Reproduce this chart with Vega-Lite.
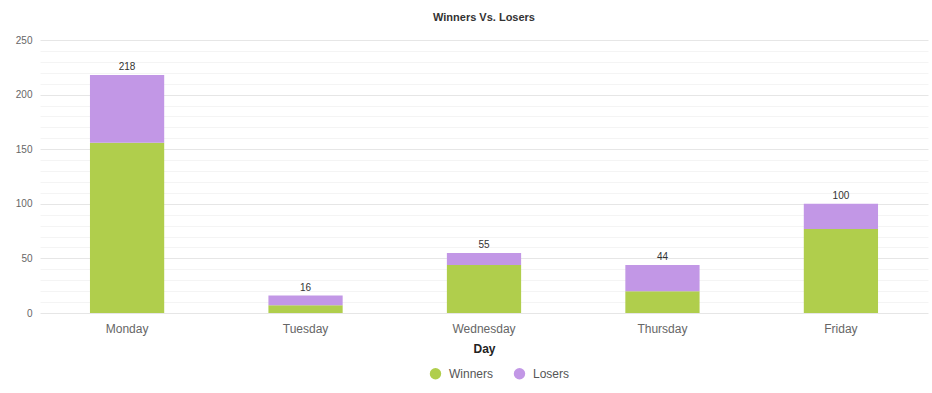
{
  "$schema": "https://vega.github.io/schema/vega-lite/v6.json",
  "autosize": "none",
  "width": 888,
  "height": 273,
  "padding": {"left": 40, "top": 40, "right": 4, "bottom": 80},
  "background": "white",
  "title": {"text": "Winners Vs. Losers", "fontSize": 11, "font": "Liberation Sans", "fontWeight": "bold", "color": "#333", "anchor": "middle", "offset": 12},
  "data": {
    "values": [
      {"day": "Monday", "series": "Winners", "value": 156},
      {"day": "Monday", "series": "Losers", "value": 62},
      {"day": "Tuesday", "series": "Winners", "value": 7},
      {"day": "Tuesday", "series": "Losers", "value": 9},
      {"day": "Wednesday", "series": "Winners", "value": 44},
      {"day": "Wednesday", "series": "Losers", "value": 11},
      {"day": "Thursday", "series": "Winners", "value": 20},
      {"day": "Thursday", "series": "Losers", "value": 24},
      {"day": "Friday", "series": "Winners", "value": 77},
      {"day": "Friday", "series": "Losers", "value": 23}
    ]
  },
  "config": {"view": {"stroke": null}, "font": "Liberation Sans"},
  "encoding": {
    "x": {"field": "day", "type": "nominal", "sort": ["Monday", "Tuesday", "Wednesday", "Thursday", "Friday"],
      "scale": {"paddingInner": 0.584, "paddingOuter": 0.28},
      "axis": {"title": "Day", "labelAngle": 0, "labelFontSize": 12, "labelColor": "#666", "labelPadding": 10, "ticks": false, "domain": false, "titleFontSize": 12, "titleFontWeight": "bold", "titleColor": "#222", "titlePadding": 9}}
  },
  "layer": [
    {
      "mark": {"type": "bar"},
      "encoding": {
        "y": {"field": "value", "type": "quantitative", "stack": "zero",
          "scale": {"domain": [0, 250], "nice": false},
          "axis": {"title": null, "values": [0,10,20,30,40,50,60,70,80,90,100,110,120,130,140,150,160,170,180,190,200,210,220,230,240,250],
            "labelExpr": "datum.value % 50 === 0 ? datum.label : ''",
            "gridColor": {"condition": {"test": "datum.value % 50 === 0", "value": "#e6e6e6"}, "value": "#f4f4f4"},
            "domain": false, "ticks": false, "labelFontSize": 10, "labelColor": "#666", "labelPadding": 8}},
        "color": {"field": "series", "type": "nominal",
          "scale": {"domain": ["Winners", "Losers"], "range": ["#b0ce4c", "#c297e6"]},
          "legend": {"title": null, "orient": "none", "legendX": 389, "legendY": 327, "direction": "horizontal", "symbolType": "circle", "symbolSize": 130, "labelFontSize": 12, "labelColor": "#555", "columnPadding": 19, "labelOffset": 7}},
        "order": {"field": "series", "sort": "descending"}
      }
    },
    {
      "transform": [{"aggregate": [{"op": "sum", "field": "value", "as": "total"}], "groupby": ["day"]}],
      "mark": {"type": "text", "baseline": "bottom", "dy": -3, "fontSize": 10, "color": "#333"},
      "encoding": {
        "y": {"field": "total", "type": "quantitative",
          "scale": {"domain": [0, 250], "nice": false},
          "axis": {"title": null, "values": [0,10,20,30,40,50,60,70,80,90,100,110,120,130,140,150,160,170,180,190,200,210,220,230,240,250],
            "labelExpr": "datum.value % 50 === 0 ? datum.label : ''",
            "gridColor": {"condition": {"test": "datum.value % 50 === 0", "value": "#e6e6e6"}, "value": "#f4f4f4"},
            "domain": false, "ticks": false, "labelFontSize": 10, "labelColor": "#666", "labelPadding": 8}},
        "text": {"field": "total", "type": "quantitative"}
      }
    }
  ]
}
